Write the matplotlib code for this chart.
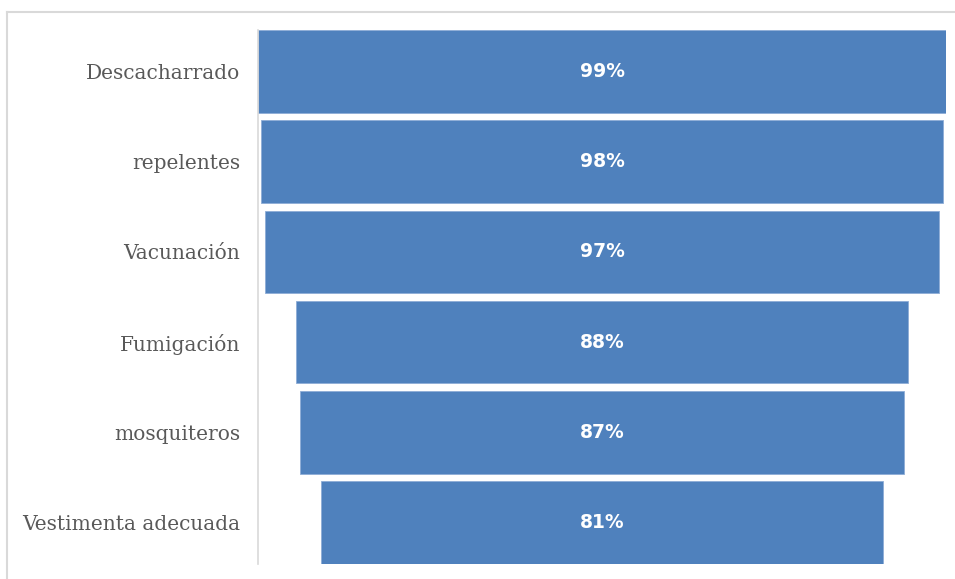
import matplotlib
matplotlib.use("Agg")
import matplotlib.pyplot as plt
from matplotlib.lines import Line2D

# Funnel data (top to bottom)
categories = ["Descacharrado", "repelentes", "Vacunación",
              "Fumigación", "mosquiteros", "Vestimenta adecuada"]
values = [99, 98, 97, 88, 87, 81]
labels = ["99%", "98%", "97%", "88%", "87%", "81%"]

BAR = "#4F81BD"
TXT = "#595959"
GRID = "#D9D9D9"

fig = plt.figure(figsize=(9.55, 5.79), dpi=100)
W, H = 955, 579
ax = fig.add_axes([258 / W, 1 - 564 / H, (946 - 258) / W, (564 - 30) / H])

vmax = max(values)
bh = 0.915
ypos = list(range(len(values)))
lefts = [(vmax - v) / 2 for v in values]
ax.barh(ypos, values, left=lefts, height=bh, color=BAR,
        edgecolor="#8DADD6", linewidth=0.6)
for y, v, lft, lab in zip(ypos, values, lefts, labels):
    ax.text(lft + v / 2, y, lab, ha="center", va="center",
            color="white", fontsize=13.5, fontweight="bold",
            family="DejaVu Sans")

ax.set_xlim(0, vmax)
ax.set_ylim(len(values) - 1 + bh / 2, -bh / 2)
ax.set_yticks(ypos)
ax.set_yticklabels(categories, family="DejaVu Serif", fontsize=14.5, color=TXT)
ax.tick_params(axis="y", length=0, pad=13)
ax.set_xticks([])
for s in ("top", "right", "bottom"):
    ax.spines[s].set_visible(False)
ax.spines["left"].set_color(GRID)
ax.spines["left"].set_linewidth(1.2)

# chart-area frame (only left and top edges fall inside the picture)
fig.add_artist(Line2D([7 / W, 7 / W], [0, 1 - 12 / H], color=GRID, lw=1.5,
                      transform=fig.transFigure))
fig.add_artist(Line2D([7 / W, 1], [1 - 12 / H, 1 - 12 / H], color=GRID, lw=1.5,
                      transform=fig.transFigure))

fig.savefig("out.png", dpi=100)
